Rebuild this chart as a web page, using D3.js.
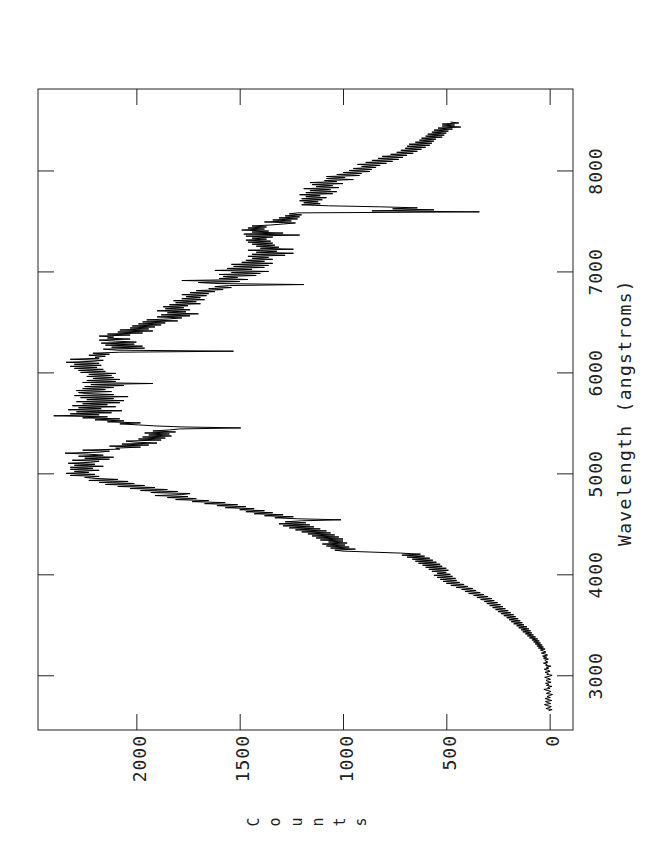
<!DOCTYPE html>
<html>
<head>
<meta charset="utf-8">
<script src="https://cdn.jsdelivr.net/npm/d3@7"></script>
<style>
  body { margin: 0; background: #fff; }
  text { font-family: "DejaVu Sans Mono", monospace; fill: #222; }
</style>
</head>
<body>
<div id="chart"></div>
<script>
"use strict";

// spectrum sampled every 10 angstroms, starting at 2650
var lambdaStart = 2650,
	lambdaStep = 10;

var countsValues = [
	5, -12, 18, 2, -8, 14, 25, -5, 10, 20,
	-10, 8, 22, -3, 12, 0, -14, 16, 5, -6,
	12, 28, -2, 9, -11, 15, 4, 20, -7, 10,
	18, -4, 8, 24, 2, -12, 14, 6, 22, -2,
	10, 26, 4, 16, -6, 20, 12, 30, 8, 18,
	24, 6, 30, 14, 34, 10, 22, 40, 18, 30,
	45, 22, 55, 30, 62, 36, 70, 44, 78, 50,
	86, 58, 98, 68, 108, 78, 118, 86, 130, 92,
	138, 100, 150, 110, 160, 124, 174, 132, 186, 142,
	196, 152, 208, 164, 222, 174, 236, 188, 250, 200,
	262, 214, 276, 226, 290, 238, 304, 252, 316, 268,
	334, 280, 352, 298, 368, 318, 392, 336, 410, 356,
	426, 372, 452, 396, 478, 414, 500, 436, 516, 450,
	530, 455, 545, 470, 560, 480, 545, 500, 570, 490,
	585, 500, 600, 520, 615, 530, 635, 548, 650, 565,
	665, 580, 690, 605, 715, 625, 720, 860, 1000, 1040,
	940, 1060, 970, 1080, 990, 1100, 980, 1070, 1000, 1110,
	1000, 1130, 1020, 1150, 1040, 1170, 1060, 1200, 1080, 1230,
	1110, 1260, 1140, 1290, 1160, 1310, 1180, 1280, 1200, 1010,
	1220, 1330, 1240, 1380, 1290, 1430, 1340, 1470, 1380, 1500,
	1430, 1570, 1470, 1610, 1510, 1670, 1570, 1730, 1650, 1810,
	1710, 1850, 1750, 1910, 1780, 1740, 1930, 1800, 1980, 1850,
	2030, 1910, 2090, 1960, 2150, 2010, 2180, 2040, 2230, 2090,
	2200, 2250, 2180, 2320, 2200, 2340, 2230, 2300, 2180, 2320,
	2210, 2320, 2160, 2300, 2200, 2330, 2220, 2180, 2310, 2130,
	2250, 2110, 2280, 2160, 2230, 2345, 2180, 2130, 2260, 2080,
	2100, 1980, 2130, 1940, 2070, 1900, 2010, 2050, 1880, 1990,
	1860, 1970, 1830, 1940, 1840, 1960, 1810, 1920, 1840, 1790,
	1495, 1780, 1910, 1990, 2080, 1980, 2140, 2060, 2200, 2080,
	2260, 2140, 2400, 2180, 2320, 2120, 2290, 2070, 2330, 2170,
	2280, 2100, 2310, 2140, 2260, 2080, 2290, 2060, 2240, 2110,
	2270, 2040, 2300, 2110, 2240, 2280, 2120, 2290, 2150, 2260,
	2110, 2250, 2060, 2220, 1920, 2260, 2100, 2240, 2080, 2210,
	2110, 2240, 2120, 2230, 2100, 2270, 2150, 2280, 2160, 2300,
	2190, 2320, 2170, 2300, 2180, 2340, 2210, 2160, 2320, 2180,
	2200, 2150, 2230, 2130, 2210, 2080, 1530, 2090, 2160, 1960,
	2120, 1970, 2150, 2010, 2170, 2000, 2100, 2180, 2030, 2140,
	2110, 2180, 2030, 2140, 1970, 2090, 1920, 2080, 1940, 2030,
	1910, 2020, 1880, 1990, 1860, 1970, 1800, 1950, 1840, 1780,
	1900, 1740, 1880, 1700, 1850, 1760, 1900, 1740, 1860, 1770,
	1870, 1750, 1840, 1690, 1810, 1710, 1820, 1670, 1780, 1690,
	1760, 1660, 1780, 1650, 1740, 1620, 1710, 1580, 1650, 1540,
	1620, 1550, 1190, 1600, 1700, 1500, 1780, 1460, 1600, 1510,
	1580, 1420, 1600, 1400, 1540, 1360, 1620, 1440, 1560, 1380,
	1530, 1360, 1540, 1340, 1490, 1380, 1470, 1340, 1440, 1360,
	1460, 1280, 1440, 1240, 1420, 1320, 1460, 1240, 1400, 1310,
	1420, 1330, 1440, 1340, 1460, 1350, 1470, 1370, 1440, 1340,
	1470, 1210, 1480, 1290, 1440, 1360, 1490, 1380, 1460, 1370,
	1440, 1350, 1290, 1230, 1380, 1250, 1340, 1220, 1310, 1210,
	1280, 1200, 1260, 1220, 340, 860, 560, 760, 640, 820,
	1070, 1200, 1110, 1190, 1120, 1210, 1100, 1200, 1080, 1180,
	1110, 1210, 1050, 1180, 1030, 1160, 1060, 1190, 1020, 1130,
	1050, 1150, 1000, 1160, 1030, 1090, 950, 1080, 990, 1080,
	920, 1030, 910, 1000, 870, 970, 860, 950, 840, 910,
	820, 930, 790, 890, 760, 860, 730, 830, 710, 810,
	690, 770, 660, 740, 640, 720, 620, 700, 600, 690,
	580, 680, 570, 650, 560, 630, 550, 620, 520, 600,
	510, 590, 500, 570, 490, 560, 470, 540, 430, 520,
	460, 520, 440, 480
];

var countTicks = [0, 500, 1000, 1500, 2000];
var wavelengthTicks = [3000, 4000, 5000, 6000, 7000, 8000];
var countsDomain = [-113, 2476];
var wavelengthDomain = [2458, 8807];
var xTitle = "Wavelength (angstroms)";
var yTitle = "Counts";

// the whole plot is turned a quarter turn: wavelength runs up, counts run left
var frame = { left: 38, right: 573, top: 89, bottom: 730 },
	tickLen = 16;

var svg = d3.select("#chart")
	.append("svg")
	.attr("width", 670)
	.attr("height", 850);

svg.append("rect")
	.attr("width", 670).attr("height", 850)
	.attr("fill", "#fff");

var x = d3.scaleLinear().domain(countsDomain).range([frame.right, frame.left]);
var y = d3.scaleLinear().domain(wavelengthDomain).range([frame.bottom, frame.top]);

var data = countsValues.map(function (c, i) {
	return { lambda: lambdaStart + i * lambdaStep, counts: c };
});

// spectrum
var line = d3.line()
	.x(function (d) { return x(d.counts); })
	.y(function (d) { return y(d.lambda); });

svg.append("path")
	.datum(data)
	.attr("fill", "none")
	.attr("stroke", "#000")
	.attr("stroke-width", 1)
	.attr("d", line);

// axes, ticks pointing inwards on all four sides
var fmt = d3.format("d");

var bottomAxis = svg.append("g")
	.attr("transform", "translate(0," + frame.bottom + ")")
	.call(d3.axisBottom(x).tickValues(countTicks).tickFormat(fmt).tickSizeInner(-tickLen).tickSizeOuter(0));

var topAxis = svg.append("g")
	.attr("transform", "translate(0," + frame.top + ")")
	.call(d3.axisTop(x).tickValues(countTicks).tickSizeInner(-tickLen).tickSizeOuter(0).tickFormat(""));

var rightAxis = svg.append("g")
	.attr("transform", "translate(" + frame.right + ",0)")
	.call(d3.axisRight(y).tickValues(wavelengthTicks).tickFormat(fmt).tickSizeInner(-tickLen).tickSizeOuter(0));

var leftAxis = svg.append("g")
	.attr("transform", "translate(" + frame.left + ",0)")
	.call(d3.axisLeft(y).tickValues(wavelengthTicks).tickSizeInner(-tickLen).tickSizeOuter(0).tickFormat(""));

[bottomAxis, topAxis, rightAxis, leftAxis].forEach(function (g) {
	g.attr("font-family", null).attr("font-size", null);
	g.select(".domain").remove();
	g.selectAll(".tick line").attr("stroke", "#222");
});

bottomAxis.selectAll(".tick text")
	.attr("x", null).attr("y", null).attr("dy", null)
	.attr("transform", "translate(9,5) rotate(-90)")
	.attr("text-anchor", "end")
	.attr("fill", "#222")
	.style("font-size", "18px")
	.style("letter-spacing", "1px");

rightAxis.selectAll(".tick text")
	.attr("x", null).attr("y", null).attr("dy", null)
	.attr("transform", "translate(29,0) rotate(-90)")
	.attr("text-anchor", "middle")
	.attr("fill", "#222")
	.style("font-size", "18px")
	.style("letter-spacing", "1px");

// frame
svg.append("rect")
	.attr("x", frame.left).attr("y", frame.top)
	.attr("width", frame.right - frame.left)
	.attr("height", frame.bottom - frame.top)
	.attr("fill", "none")
	.attr("stroke", "#222")
	.attr("stroke-width", 1);

// titles
svg.append("text")
	.attr("transform", "translate(631," + ((frame.top + frame.bottom) / 2 + 3) + ") rotate(-90)")
	.attr("text-anchor", "middle")
	.style("font-size", "18px")
	.style("letter-spacing", "1.3px")
	.text(xTitle);

// letters of the counts title stand one after another, each turned
var midX = (frame.left + frame.right) / 2 + 3;
svg.selectAll(".ytitle")
	.data(yTitle.split(""))
	.enter().append("text")
	.attr("class", "ytitle")
	.attr("transform", function (d, i) {
		return "translate(" + (midX + (i - 2.5) * 21.4 + 4) + ",822) rotate(-90)";
	})
	.attr("text-anchor", "middle")
	.style("font-size", "15px")
	.text(function (d) { return d; });
</script>
</body>
</html>
